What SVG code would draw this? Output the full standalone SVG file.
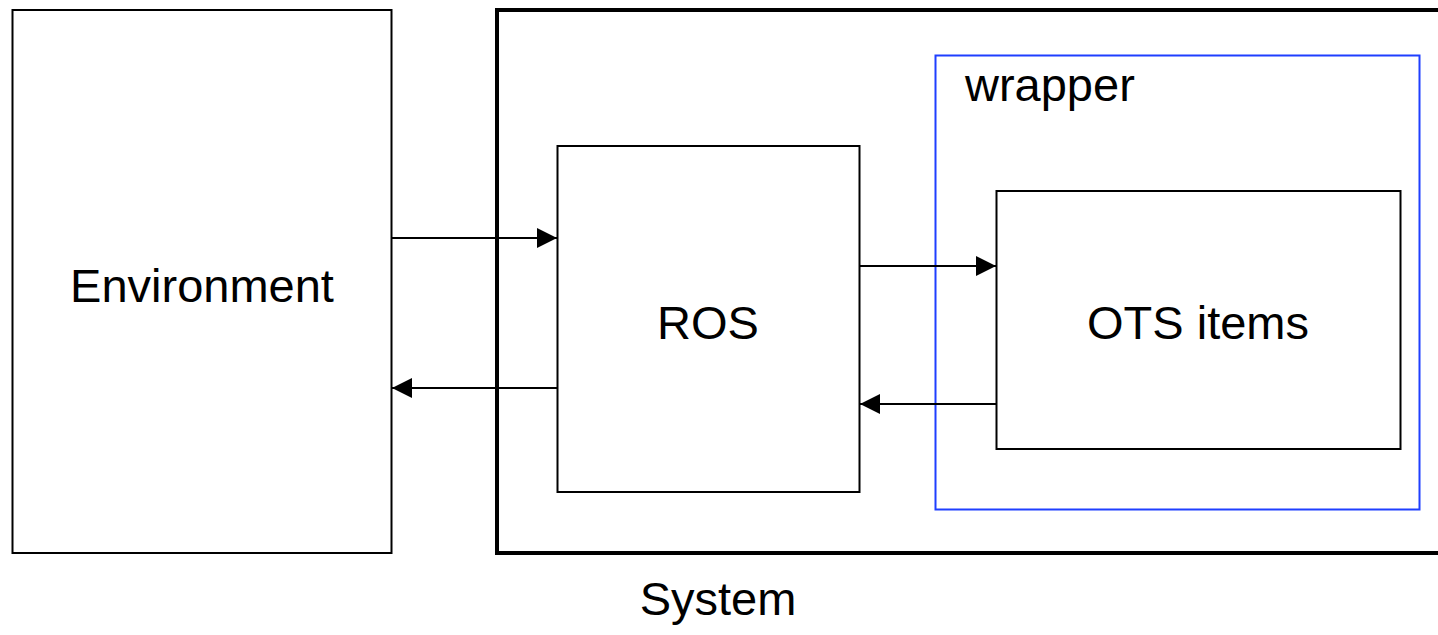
<svg xmlns="http://www.w3.org/2000/svg" width="1438" height="635" viewBox="0 0 1438 635">
<style>
.box{fill:#fff;stroke:#000;stroke-width:2}
.t{font-family:"Liberation Sans",Arial,sans-serif;font-size:47px;fill:#000}
.c{stroke:#000;stroke-width:2;fill:none}
</style>
<defs>
<marker id="ah" markerWidth="20" markerHeight="20" refX="20" refY="10" orient="auto" markerUnits="userSpaceOnUse">
<path d="M0,0 L20,10 L0,20 Z" fill="#000"/>
</marker>
</defs>
<rect width="1438" height="635" fill="#fff"/>
<g id="system">
<rect x="497" y="10" width="960" height="543" fill="#fff" stroke="#000" stroke-width="4"/>
<text class="t" x="718" y="615" text-anchor="middle">System</text>
</g>
<g id="environment">
<rect class="box" x="12.5" y="10" width="379" height="543"/>
<text class="t" x="202" y="302" text-anchor="middle">Environment</text>
</g>
<g id="wrapper">
<rect x="935.5" y="55.5" width="484" height="454" fill="none" stroke="#1f3fff" stroke-width="2"/>
<text class="t" x="965" y="101">wrapper</text>
</g>
<g id="ros">
<rect class="box" x="557.5" y="146" width="302" height="346"/>
<text class="t" x="708" y="339" text-anchor="middle">ROS</text>
</g>
<g id="ots">
<rect class="box" x="996.5" y="191" width="404" height="258"/>
<text class="t" x="1198" y="339" text-anchor="middle">OTS items</text>
</g>
<g id="connectors">
<line class="c" x1="392" y1="238" x2="557" y2="238" marker-end="url(#ah)"/>
<line class="c" x1="557" y1="388" x2="392" y2="388" marker-end="url(#ah)"/>
<line class="c" x1="860" y1="266" x2="996" y2="266" marker-end="url(#ah)"/>
<line class="c" x1="996" y1="404" x2="860" y2="404" marker-end="url(#ah)"/>
</g>
</svg>
